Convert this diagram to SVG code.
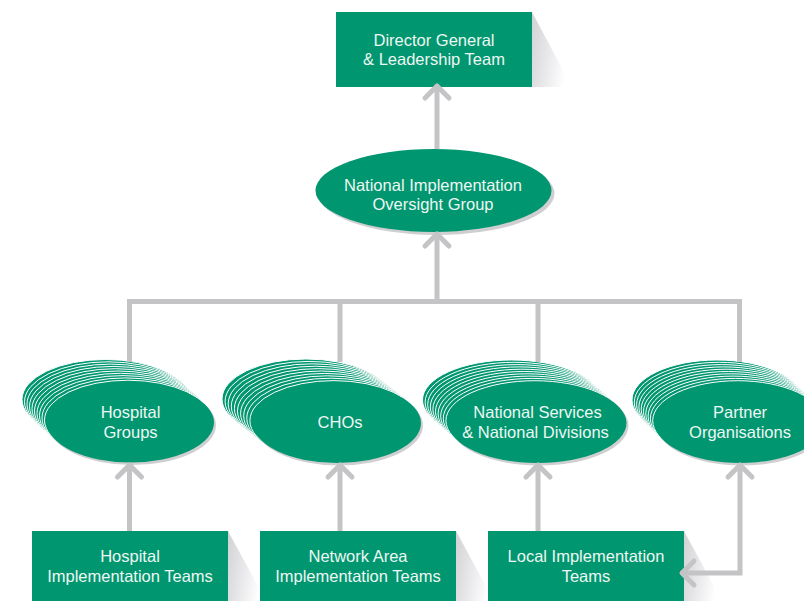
<svg xmlns="http://www.w3.org/2000/svg" width="804" height="601" viewBox="0 0 804 601">
<defs>
<linearGradient id="bsh" x1="0" y1="0" x2="1" y2="0.3">
<stop offset="0" stop-color="#d2d2d4"/>
<stop offset="0.6" stop-color="#ececee"/>
<stop offset="1" stop-color="#ffffff"/>
</linearGradient>
<style>
.box{fill:#009670;}
.bsh{fill:url(#bsh);}
.bk{fill:#009670;stroke:#ffffff;stroke-width:1;}
.fr{fill:#009670;}
.sh{fill:#cfcfd1;}
.t{font-family:"Liberation Sans",Arial,sans-serif;font-size:16.5px;fill:#eef7f3;text-anchor:middle;}
.ln{fill:none;stroke:#c4c4c6;stroke-width:5;}
.ch{fill:none;stroke:#c4c4c6;stroke-width:5;stroke-linecap:round;stroke-linejoin:round;}
</style>
</defs>
<rect width="804" height="601" fill="#ffffff"/>

<g id="director-general">
<polygon class="bsh" points="532,12 572,87 532,87"/>
<rect class="box" x="336" y="12" width="196" height="75"/>
<text class="t" x="434" y="46">Director General</text>
<text class="t" x="434" y="65">&amp; Leadership Team</text>
</g>

<g id="niog">
<ellipse class="sh" cx="436.5" cy="193.5" rx="118" ry="41.5"/>
<ellipse class="fr" cx="433.5" cy="190.5" rx="118" ry="41.5"/>
<text class="t" x="433" y="191">National Implementation</text>
<text class="t" x="433" y="210">Oversight Group</text>
</g>

<g id="hospital-groups" transform="translate(130.5,422.5)">
<ellipse class="bk" cx="-25" cy="-23" rx="83.5" ry="40"/>
<ellipse class="bk" cx="-22.5" cy="-20.7" rx="83.5" ry="40"/>
<ellipse class="bk" cx="-20" cy="-18.4" rx="83.5" ry="40"/>
<ellipse class="bk" cx="-17.5" cy="-16.1" rx="83.5" ry="40"/>
<ellipse class="bk" cx="-15" cy="-13.8" rx="83.5" ry="40"/>
<ellipse class="bk" cx="-12.5" cy="-11.5" rx="83.5" ry="40"/>
<ellipse class="bk" cx="-10" cy="-9.2" rx="83.5" ry="40"/>
<ellipse class="bk" cx="-7.5" cy="-6.9" rx="83.5" ry="40"/>
<ellipse class="bk" cx="-5" cy="-4.6" rx="83.5" ry="40"/>
<ellipse class="bk" cx="-2.5" cy="-2.3" rx="83.5" ry="40"/>
<ellipse class="sh" cx="2" cy="2.5" rx="83.5" ry="40"/>
<ellipse class="fr" cx="0" cy="0" rx="83.5" ry="40"/>
<text class="t" x="0" y="-4.5">Hospital</text>
<text class="t" x="0" y="15.5">Groups</text>
</g>

<g id="chos" transform="translate(337,423)">
<ellipse class="bk" cx="-31" cy="-24" rx="84" ry="40"/>
<ellipse class="bk" cx="-27.9" cy="-21.6" rx="84" ry="40"/>
<ellipse class="bk" cx="-24.8" cy="-19.2" rx="84" ry="40"/>
<ellipse class="bk" cx="-21.7" cy="-16.8" rx="84" ry="40"/>
<ellipse class="bk" cx="-18.6" cy="-14.4" rx="84" ry="40"/>
<ellipse class="bk" cx="-15.5" cy="-12" rx="84" ry="40"/>
<ellipse class="bk" cx="-12.4" cy="-9.6" rx="84" ry="40"/>
<ellipse class="bk" cx="-9.3" cy="-7.2" rx="84" ry="40"/>
<ellipse class="bk" cx="-6.2" cy="-4.8" rx="84" ry="40"/>
<ellipse class="bk" cx="-3.1" cy="-2.4" rx="84" ry="40"/>
<ellipse class="sh" cx="2" cy="2.5" rx="84" ry="40"/>
<ellipse class="fr" cx="0" cy="0" rx="84" ry="40"/>
<text class="t" x="3" y="5">CHOs</text>
</g>

<g id="national-services" transform="translate(537.5,423)">
<ellipse class="bk" cx="-26" cy="-23" rx="89" ry="40"/>
<ellipse class="bk" cx="-23.4" cy="-20.7" rx="89" ry="40"/>
<ellipse class="bk" cx="-20.8" cy="-18.4" rx="89" ry="40"/>
<ellipse class="bk" cx="-18.2" cy="-16.1" rx="89" ry="40"/>
<ellipse class="bk" cx="-15.6" cy="-13.8" rx="89" ry="40"/>
<ellipse class="bk" cx="-13" cy="-11.5" rx="89" ry="40"/>
<ellipse class="bk" cx="-10.4" cy="-9.2" rx="89" ry="40"/>
<ellipse class="bk" cx="-7.8" cy="-6.9" rx="89" ry="40"/>
<ellipse class="bk" cx="-5.2" cy="-4.6" rx="89" ry="40"/>
<ellipse class="bk" cx="-2.6" cy="-2.3" rx="89" ry="40"/>
<ellipse class="sh" cx="2" cy="2.5" rx="89" ry="40"/>
<ellipse class="fr" cx="0" cy="0" rx="89" ry="40"/>
<text class="t" x="0" y="-5">National Services</text>
<text class="t" x="-2" y="15">&amp; National Divisions</text>
</g>

<g id="partner-organisations" transform="translate(740,423)">
<ellipse class="bk" cx="-23" cy="-23" rx="85" ry="40"/>
<ellipse class="bk" cx="-20.7" cy="-20.7" rx="85" ry="40"/>
<ellipse class="bk" cx="-18.4" cy="-18.4" rx="85" ry="40"/>
<ellipse class="bk" cx="-16.1" cy="-16.1" rx="85" ry="40"/>
<ellipse class="bk" cx="-13.8" cy="-13.8" rx="85" ry="40"/>
<ellipse class="bk" cx="-11.5" cy="-11.5" rx="85" ry="40"/>
<ellipse class="bk" cx="-9.2" cy="-9.2" rx="85" ry="40"/>
<ellipse class="bk" cx="-6.9" cy="-6.9" rx="85" ry="40"/>
<ellipse class="bk" cx="-4.6" cy="-4.6" rx="85" ry="40"/>
<ellipse class="bk" cx="-2.3" cy="-2.3" rx="85" ry="40"/>
<ellipse class="sh" cx="2" cy="2.5" rx="85" ry="40"/>
<ellipse class="fr" cx="0" cy="0" rx="85" ry="40"/>
<text class="t" x="0" y="-5">Partner</text>
<text class="t" x="0" y="15">Organisations</text>
</g>

<g id="hospital-teams">
<polygon class="bsh" points="228,531 266,601 228,601"/>
<rect class="box" x="32" y="531" width="196" height="75"/>
<text class="t" x="130" y="562">Hospital</text>
<text class="t" x="130" y="582">Implementation Teams</text>
</g>

<g id="network-teams">
<polygon class="bsh" points="456,531 494,601 456,601"/>
<rect class="box" x="260" y="531" width="196" height="75"/>
<text class="t" x="358" y="562">Network Area</text>
<text class="t" x="358" y="582">Implementation Teams</text>
</g>

<g id="local-teams">
<polygon class="bsh" points="684,531 722,601 684,601"/>
<rect class="box" x="488" y="531" width="196" height="75"/>
<text class="t" x="586" y="562">Local Implementation</text>
<text class="t" x="586" y="582">Teams</text>
</g>

<g id="connectors">
<path class="ln" d="M129.5 362 V301.5 H739.5 V362"/>
<path class="ln" d="M340 301.5 V362 M538 301.5 V362"/>
<path class="ln" d="M437 301.5 V235"/>
<path class="ch" d="M425 246 L437 234 L449 246"/>
<path class="ln" d="M437 149 V88"/>
<path class="ch" d="M425 98 L437 86 L449 98"/>
<path class="ln" d="M129.5 531 V467"/>
<path class="ch" d="M117.5 477 L129.5 465 L141.5 477"/>
<path class="ln" d="M340 531 V467"/>
<path class="ch" d="M328 477 L340 465 L352 477"/>
<path class="ln" d="M538 531 V467"/>
<path class="ch" d="M526 477 L538 465 L550 477"/>
<path class="ln" d="M740 467 V573 H684"/>
<path class="ch" d="M728 477 L740 465 L752 477"/>
<path class="ch" d="M694 561 L682 573 L694 585"/>
</g>
</svg>
